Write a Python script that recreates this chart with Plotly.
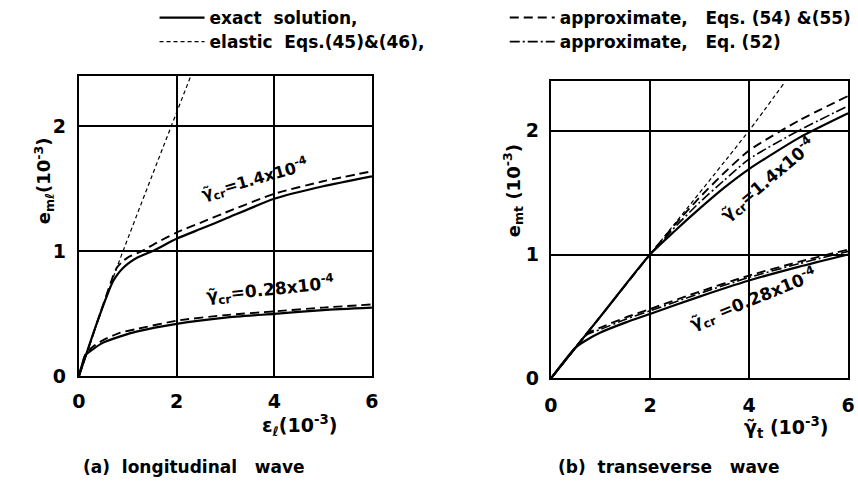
import plotly.graph_objects as go

# ---------------- (a) longitudinal wave : strain eps_l (1e-3) -> e_ml (1e-3)
long_hi_exact_x = [0, 0.4, 0.7, 0.8, 0.9, 1.0, 1.2, 1.5, 2, 2.5, 3, 4, 5, 6]
long_hi_exact_y = [0, 0.46, 0.76, 0.82, 0.865, 0.9, 0.95, 1.0, 1.1, 1.18, 1.26, 1.42, 1.52, 1.6]
long_hi_appr_x = [0, 0.4, 0.7, 0.78, 0.9, 1.0, 1.28, 1.6, 2, 2.5, 3, 4, 5, 6]
long_hi_appr_y = [0, 0.46, 0.8, 0.87, 0.92, 0.95, 1.0, 1.07, 1.15, 1.23, 1.31, 1.46, 1.56, 1.64]
long_lo_x = [0, 0.14, 0.3, 0.5, 0.85, 1.2, 2, 3, 4, 5, 6]
long_lo_exact_y = [0, 0.17, 0.22, 0.27, 0.32, 0.36, 0.42, 0.47, 0.5, 0.53, 0.55]
long_lo_appr_y = [0, 0.18, 0.24, 0.29, 0.35, 0.38, 0.445, 0.49, 0.52, 0.55, 0.575]
long_elastic_x = [0, 0.75, 2.29]
long_elastic_y = [0, 0.84, 2.4]

# ---------------- (b) transverse wave : strain gamma_t (1e-3) -> e_mt (1e-3)
tr_hi_x = [0, 1, 2, 2.5, 3, 3.5, 4, 5, 6]
tr_hi_exact_y = [0, 0.5, 1.0, 1.19, 1.37, 1.54, 1.69, 1.94, 2.14]
tr_hi_eq52_y = [0, 0.5, 1.0, 1.22, 1.42, 1.6, 1.77, 2.0, 2.2]
tr_hi_eq54_y = [0, 0.5, 1.0, 1.24, 1.46, 1.66, 1.84, 2.08, 2.28]
tr_lo_x = [0, 0.5, 0.72, 1, 1.5, 2, 3, 4, 5, 6]
tr_lo_exact_y = [0, 0.25, 0.31, 0.37, 0.45, 0.52, 0.66, 0.79, 0.9, 1.0]
tr_lo_eq52_y = [0, 0.25, 0.35, 0.395, 0.475, 0.545, 0.685, 0.815, 0.925, 1.025]
tr_lo_eq54_y = [0, 0.25, 0.36, 0.41, 0.49, 0.56, 0.70, 0.83, 0.94, 1.04]
tr_elastic_x = [0, 2, 4, 4.7]
tr_elastic_y = [0, 1.0, 2.0, 2.38]

x_ticks = [0, 2, 4, 6]
y_ticks = [0, 1, 2]

W, H = 858, 491
FONT = "DejaVu Sans"
NB = "\u00a0"

def fx(px):
    return px / W

def fy(py):
    return 1 - py / H

EXACT = dict(color="black", width=2.2)
ELASTIC = dict(color="black", width=1.2, dash="4px,3px")
EQ54 = dict(color="black", width=1.9, dash="9px,5px")
EQ52 = dict(color="black", width=1.6, dash="10px,3px,2px,3px")

NAME_EXACT = "exact" + NB + NB + "solution,"
NAME_ELASTIC = "elastic" + NB + NB + "Eqs.(45)&(46),"
NAME_EQ54 = "approximate," + NB * 3 + "Eqs." + NB + "(54)" + NB + "&(55)"
NAME_EQ52 = "approximate," + NB * 3 + "Eq." + NB + "(52)"

fig = go.Figure()

def add(x, y, line, name, axes, show, legend):
    xa, ya = axes
    fig.add_trace(go.Scatter(
        x=x, y=y, mode="lines", line=dict(**line, shape="spline", smoothing=0.6),
        name=name, showlegend=show, legend=legend, xaxis=xa, yaxis=ya,
        hoverinfo="skip"))

A = ("x", "y")
B = ("x2", "y2")

# left panel
add(long_hi_exact_x, long_hi_exact_y, EXACT, NAME_EXACT, A, True, "legend")
add(long_lo_x, long_lo_exact_y, EXACT, NAME_EXACT, A, False, "legend")
add(long_elastic_x, long_elastic_y, ELASTIC, NAME_ELASTIC, A, True, "legend2")
add(long_hi_appr_x, long_hi_appr_y, EQ54, NAME_EQ54, A, True, "legend3")
add(long_lo_x, long_lo_appr_y, EQ54, NAME_EQ54, A, False, "legend3")

# right panel
add(tr_hi_x, tr_hi_exact_y, EXACT, NAME_EXACT, B, False, "legend")
add(tr_lo_x, tr_lo_exact_y, EXACT, NAME_EXACT, B, False, "legend")
add(tr_elastic_x, tr_elastic_y, ELASTIC, NAME_ELASTIC, B, False, "legend2")
add(tr_hi_x, tr_hi_eq54_y, EQ54, NAME_EQ54, B, False, "legend3")
add(tr_lo_x, tr_lo_eq54_y, EQ54, NAME_EQ54, B, False, "legend3")
add(tr_hi_x, tr_hi_eq52_y, EQ52, NAME_EQ52, B, True, "legend4")
add(tr_lo_x, tr_lo_eq52_y, EQ52, NAME_EQ52, B, False, "legend4")

axis_common = dict(
    showline=True, mirror=True, linecolor="black", linewidth=2.2,
    showgrid=True, gridcolor="black", gridwidth=1.8,
    zeroline=False, ticks="",
    tickfont=dict(family=FONT, size=19, color="black", weight="bold"),
)

legend_common = dict(
    xanchor="left", yanchor="middle", itemwidth=45, bgcolor="rgba(0,0,0,0)",
    font=dict(family=FONT, size=17, color="black", weight="bold"),
    itemclick=False, itemdoubleclick=False,
)

fig.update_layout(
    width=W, height=H,
    margin=dict(l=0, r=0, t=0, b=0),
    paper_bgcolor="white", plot_bgcolor="white",
    font=dict(family=FONT, color="black"),
    xaxis=dict(domain=[fx(73), fx(371)], range=[0, 6], tickvals=x_ticks, anchor="y",
               ticklabelstandoff=7, **axis_common),
    yaxis=dict(domain=[fy(385), fy(78)], range=[0, 2.4], tickvals=y_ticks, anchor="x",
               ticklabelstandoff=7, **axis_common),
    xaxis2=dict(domain=[fx(553), fx(855)], range=[0, 6], tickvals=x_ticks, anchor="y2",
                ticklabelstandoff=9, **axis_common),
    yaxis2=dict(domain=[fy(387), fy(83)], range=[0, 2.4], tickvals=y_ticks, anchor="x2",
                ticklabelstandoff=6, **axis_common),
    legend=dict(x=fx(150), y=fy(18), **legend_common),
    legend2=dict(x=fx(150), y=fy(43), **legend_common),
    legend3=dict(x=fx(506), y=fy(18), **legend_common),
    legend4=dict(x=fx(506), y=fy(43), **legend_common),
)

def note(text, px, py, size=17, angle=0):
    fig.add_annotation(text=text, x=fx(px), y=fy(py), xref="paper", yref="paper",
                       xanchor="center", yanchor="middle",
                       showarrow=False, textangle=angle,
                       font=dict(family=FONT, size=size, color="black", weight="bold"))

# axis titles
note("e<sub>mℓ</sub>(10<sup>-3</sup>)", 37, 185, size=18, angle=-90)
note("e<sub>mt</sub> (10<sup>-3</sup>)", 514, 195, size=18, angle=-90)
note("ε<sub>ℓ</sub>(10<sup>-3</sup>)", 297, 435, size=19)
note("γ̃<sub>t</sub> (10<sup>-3</sup>)", 792, 437, size=19)

# curve labels
note("γ̃<sub>cr</sub>=1.4x10<sup>-4</sup>", 252, 184, size=16, angle=-16)
note("γ̃<sub>cr</sub>=0.28x10<sup>-4</sup>", 268, 296, size=17, angle=-6)
note("γ̃<sub>cr</sub>=1.4x10<sup>-4</sup>", 774, 184, size=17, angle=-40)
note("γ̃<sub>cr</sub>" + NB + "=0.28x10<sup>-4</sup>", 758, 306, size=17, angle=-22)

# captions
note("(a)" + NB * 2 + "longitudinal" + NB * 3 + "wave", 190, 478, size=17)
note("(b)" + NB * 2 + "transeverse" + NB * 3 + "wave", 672, 478, size=17)

fig.write_html("out.html")
